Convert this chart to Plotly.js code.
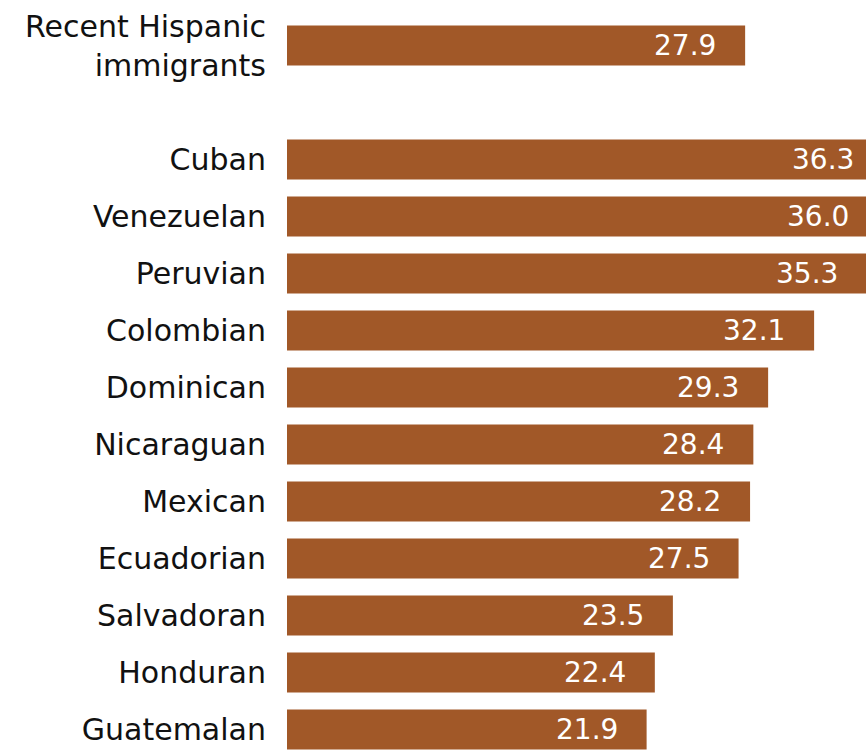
<!DOCTYPE html>
<html>
<head>
<meta charset="utf-8">
<script src="https://cdn.plot.ly/plotly-3.0.1.min.js"></script>
<style>
html, body { margin: 0; padding: 0; overflow: hidden; background: #fff; width: 866px; height: 750px; }
#chart { width: 888px; height: 760px; }
</style>
</head>
<body>
<div id="chart"></div>
<script>
const categories = [
  "Recent Hispanic<br>immigrants", " ",
  "Cuban", "Venezuelan", "Peruvian", "Colombian", "Dominican", "Nicaraguan",
  "Mexican", "Ecuadorian", "Salvadoran", "Honduran", "Guatemalan"
];
const values = [27.9, null, 36.3, 36.0, 35.3, 32.1, 29.3, 28.4, 28.2, 27.5, 23.5, 22.4, 21.9];
const barColor = "#A15828";

const trace = {
  type: "bar",
  orientation: "h",
  y: categories,
  x: values,
  marker: { color: barColor, line: { width: 0 } },
  hoverinfo: "skip",
  cliponaxis: true
};

const annotations = [];
categories.forEach((c, i) => {
  if (values[i] === null) return;
  annotations.push({
    x: values[i],
    y: c,
    xref: "x",
    yref: "y",
    text: values[i].toFixed(1),
    showarrow: false,
    xanchor: "right",
    yanchor: "middle",
    xshift: -27,
    font: { family: "DejaVu Sans", size: 28, color: "#ffffff" }
  });
});

const layout = {
  width: 888,
  height: 760,
  margin: { l: 287, r: 0, t: 17, b: 2, pad: 0 },
  paper_bgcolor: "#ffffff",
  plot_bgcolor: "#ffffff",
  showlegend: false,
  bargap: 0.3,
  font: { family: "DejaVu Sans", color: "#111111" },
  annotations: annotations,
  xaxis: {
    range: [0, 36.6],
    visible: false,
    fixedrange: true
  },
  yaxis: {
    type: "category",
    categoryorder: "array",
    categoryarray: categories,
    autorange: "reversed",
    showgrid: false,
    zeroline: false,
    showline: false,
    ticks: "outside",
    ticklen: 14,
    tickcolor: "rgba(0,0,0,0)",
    tickfont: { family: "DejaVu Sans", size: 30, color: "#111111" },
    fixedrange: true
  }
};

Plotly.newPlot("chart", [trace], layout, { displayModeBar: false, staticPlot: true });
</script>
</body>
</html>
